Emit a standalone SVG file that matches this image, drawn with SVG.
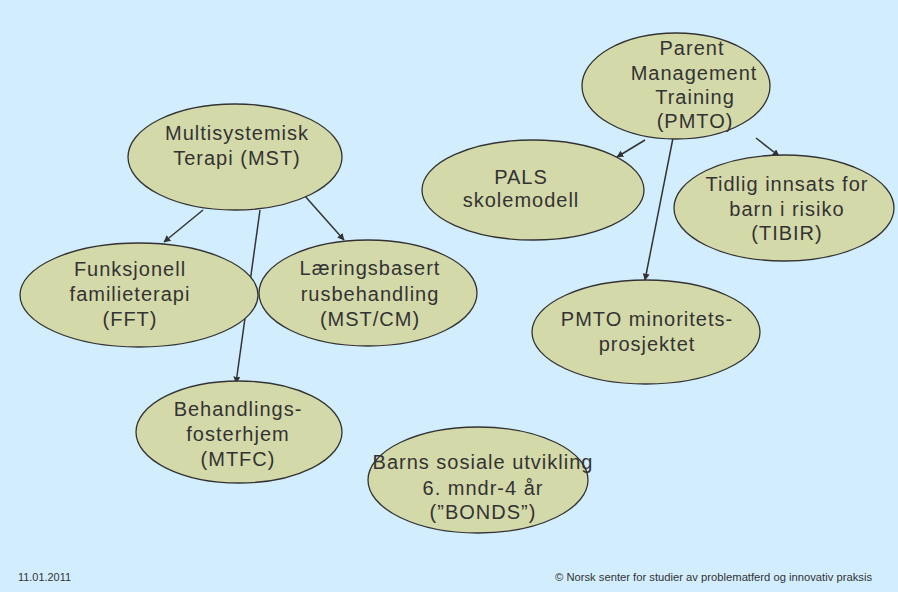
<svg xmlns="http://www.w3.org/2000/svg" width="898" height="592" viewBox="0 0 898 592">
<style>
.n{fill:#d4d9aa;stroke:#333;stroke-width:1.3}
.t{font-family:"Liberation Sans",Arial,sans-serif;font-size:20px;letter-spacing:1px;fill:#333;text-anchor:middle}
.c{stroke:#333;stroke-width:1.5;fill:none;marker-end:url(#a)}
.f{font-family:"Liberation Sans",Arial,sans-serif;font-size:10px;fill:#333}
</style>
<defs>
<marker id="a" viewBox="0 0 10 10" refX="9" refY="5" markerWidth="7" markerHeight="7" markerUnits="userSpaceOnUse" orient="auto">
<path d="M0,0 L10,5 L0,10 z" fill="#333"/>
</marker>
</defs>
<rect width="898" height="592" fill="#d2eefe"/>
<g id="connectors">
<line class="c" x1="203" y1="210" x2="164" y2="242"/>
<line class="c" x1="260" y1="210" x2="236" y2="383"/>
<line class="c" x1="304" y1="195" x2="344" y2="240"/>
<line class="c" x1="645" y1="140" x2="617" y2="157"/>
<line class="c" x1="673" y1="138" x2="645" y2="280"/>
<line class="c" x1="756" y1="138" x2="779" y2="156"/>
</g>
<g id="mst"><ellipse class="n" cx="235" cy="157" rx="107" ry="53"/>
<text class="t"><tspan x="237" y="140">Multisystemisk</tspan><tspan x="237" y="165">Terapi (MST)</tspan></text></g>
<g id="pmto"><ellipse class="n" cx="676" cy="86" rx="94" ry="53"/>
<text class="t"><tspan x="692" y="55">Parent</tspan><tspan x="694" y="80">Management</tspan><tspan x="695" y="104">Training</tspan><tspan x="695" y="128">(PMTO)</tspan></text></g>
<g id="pals"><ellipse class="n" cx="533" cy="190" rx="111" ry="50"/>
<text class="t"><tspan x="521" y="184">PALS</tspan><tspan x="521" y="207">skolemodell</tspan></text></g>
<g id="tibir"><ellipse class="n" cx="784" cy="208" rx="110" ry="53"/>
<text class="t"><tspan x="787" y="191">Tidlig innsats for</tspan><tspan x="787" y="216">barn i risiko</tspan><tspan x="787" y="240">(TIBIR)</tspan></text></g>
<g id="fft"><ellipse class="n" cx="139" cy="295" rx="119" ry="52"/>
<text class="t"><tspan x="130" y="276">Funksjonell</tspan><tspan x="130" y="301">familieterapi</tspan><tspan x="130" y="326">(FFT)</tspan></text></g>
<g id="mstcm"><ellipse class="n" cx="368" cy="293" rx="109" ry="53"/>
<text class="t"><tspan x="370" y="275">Læringsbasert</tspan><tspan x="370" y="301">rusbehandling</tspan><tspan x="370" y="326">(MST/CM)</tspan></text></g>
<g id="minoritet"><ellipse class="n" cx="646" cy="332" rx="114" ry="52"/>
<text class="t"><tspan x="647" y="326">PMTO minoritets-</tspan><tspan x="647" y="351">prosjektet</tspan></text></g>
<g id="mtfc"><ellipse class="n" cx="239" cy="432" rx="103" ry="51"/>
<text class="t"><tspan x="238" y="416">Behandlings-</tspan><tspan x="238" y="441">fosterhjem</tspan><tspan x="238" y="466">(MTFC)</tspan></text></g>
<g id="bonds"><ellipse class="n" cx="478" cy="480" rx="110" ry="53"/>
<text class="t"><tspan x="483" y="469">Barns sosiale utvikling</tspan><tspan x="483" y="495">6. mndr-4 år</tspan><tspan x="483" y="519">(”BONDS”)</tspan></text></g>
<text class="f" x="18" y="581" textLength="53" lengthAdjust="spacingAndGlyphs">11.01.2011</text>
<text class="f" x="555" y="581" textLength="317" lengthAdjust="spacingAndGlyphs">© Norsk senter for studier av problematferd og innovativ praksis</text>
</svg>
